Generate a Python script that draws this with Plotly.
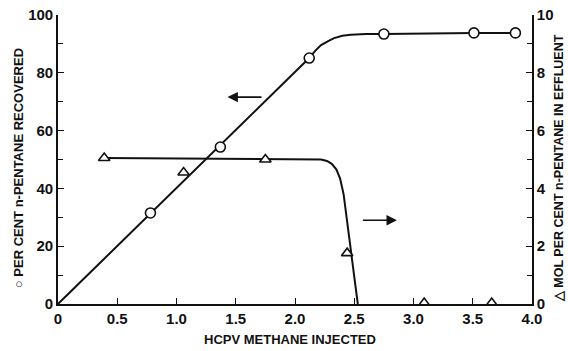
import plotly.graph_objects as go

# ---- data ----
# circles: per cent n-pentane recovered (left axis)
rec_x = [0.78, 1.37, 2.12, 2.75, 3.51, 3.86]
rec_y = [31.5, 54.3, 85.1, 93.4, 93.8, 93.8]
# smooth curve through the recovered points
rec_curve_x = [0.0, 2.12, 2.17, 2.22, 2.28, 2.33, 2.40, 2.47, 2.60, 2.75, 3.51, 3.90]
rec_curve_y = [0.0, 85.1, 87.6, 89.6, 91.0, 92.0, 92.8, 93.2, 93.4, 93.4, 93.8, 93.8]

# triangles: mol per cent n-pentane in effluent (right axis)
eff_x = [0.39, 1.06, 1.75, 2.44, 3.09, 3.66]
eff_y = [5.05, 4.55, 5.0, 1.76, 0.03, 0.03]
eff_curve_x = [0.39, 1.75, 2.22, 2.27, 2.31, 2.35, 2.38, 2.41, 2.44, 2.47, 2.50, 2.53]
eff_curve_y = [5.05, 5.02, 5.0, 4.95, 4.85, 4.65, 4.35, 3.8, 2.9, 1.9, 0.95, 0.0]

# arrows (tail -> head), in data units of the left axis
arrow_left = dict(tail=(1.73, 71.6), head=(1.43, 71.6))
arrow_right = dict(tail=(2.56, 29.0), head=(2.86, 29.0))

x_ticks = [0, 0.5, 1.0, 1.5, 2.0, 2.5, 3.0, 3.5, 4.0]
x_labels = ["0", "0.5", "1.0", "1.5", "2.0", "2.5", "3.0", "3.5", "4.0"]
y_ticks = [0, 20, 40, 60, 80, 100]
y_labels = ["0", "20", "40", "60", "80", "100"]
y2_ticks = [0, 2, 4, 6, 8, 10]
y2_labels = ["0", "2", "4", "6", "8", "10"]

x_title = "HCPV METHANE INJECTED"
y_title = "○ PER CENT n-PENTANE RECOVERED"
y2_title = "△ MOL PER CENT n-PENTANE IN EFFLUENT"

FONT = "Liberation Sans, Arial, sans-serif"
INK = "#111111"

fig = go.Figure()
fig.add_trace(go.Scatter(x=rec_curve_x, y=rec_curve_y, mode="lines",
                         line=dict(color=INK, width=2), hoverinfo="skip", showlegend=False))
fig.add_trace(go.Scatter(x=eff_curve_x, y=eff_curve_y, mode="lines", yaxis="y2",
                         line=dict(color=INK, width=2), hoverinfo="skip", showlegend=False))
fig.add_trace(go.Scatter(x=rec_x, y=rec_y, mode="markers",
                         marker=dict(symbol="circle", size=10, color="white",
                                     line=dict(color=INK, width=1.6)), showlegend=False))
fig.add_trace(go.Scatter(x=eff_x, y=eff_y, mode="markers", yaxis="y2",
                         marker=dict(symbol="triangle-up", size=10, color="white",
                                     line=dict(color=INK, width=1.6)), showlegend=False))

for a in (arrow_left, arrow_right):
    fig.add_annotation(x=a["head"][0], y=a["head"][1], ax=a["tail"][0], ay=a["tail"][1],
                       xref="x", yref="y", axref="x", ayref="y", text="",
                       showarrow=True, arrowhead=2, arrowsize=1.3, arrowwidth=1.6,
                       arrowcolor=INK)

tickfont = dict(family=FONT, size=15, color=INK, weight="bold")
titlefont = dict(family=FONT, size=13, color=INK, weight="bold")

fig.add_annotation(text=x_title, x=0.49, y=0, xref="paper", yref="paper",
                   xanchor="center", yanchor="middle",
                   yshift=-35, showarrow=False, font=titlefont)
fig.add_annotation(text=y_title, x=0, y=0.47, xref="paper", yref="paper",
                   xanchor="center", yanchor="middle",
                   xshift=-40, textangle=-90, showarrow=False, font=titlefont)
fig.add_annotation(text=y2_title, x=1, y=0.47, xref="paper", yref="paper",
                   xanchor="center", yanchor="middle",
                   xshift=27, textangle=-90, showarrow=False,
                   font=dict(family=FONT, size=12.5, color=INK, weight="bold"))

fig.update_layout(
    width=568, height=351,
    margin=dict(l=58, r=36, t=15, b=47, autoexpand=False),
    paper_bgcolor="white", plot_bgcolor="white",
    xaxis=dict(range=[0, 4], tickvals=x_ticks, ticktext=x_labels, automargin=False,
               showgrid=False, zeroline=False, showline=True, linecolor=INK, linewidth=1.6,
               ticks="inside", ticklen=6, tickwidth=1.4, tickcolor=INK,
               tickfont=tickfont, ticklabelstandoff=0),
    yaxis=dict(range=[0, 100], tickvals=y_ticks, ticktext=y_labels, automargin=False,
               showgrid=False, zeroline=False, showline=True, linecolor=INK, linewidth=1.6,
               ticks="inside", ticklen=6, tickwidth=1.4, tickcolor=INK,
               minor=dict(ticks="inside", dtick=10, ticklen=5, tickcolor=INK),
               tickfont=tickfont),
    yaxis2=dict(range=[0, 10], overlaying="y", side="right", tickvals=y2_ticks,
                ticktext=y2_labels, showgrid=False, zeroline=False, showline=True,
                automargin=False,
                linecolor=INK, linewidth=1.6, ticks="inside", ticklen=6, tickwidth=1.4,
                tickcolor=INK, minor=dict(ticks="inside", dtick=1, ticklen=5, tickcolor=INK),
                tickfont=tickfont),
)

fig.write_html("out.html", config={"displayModeBar": False},
               post_script="document.body.style.margin='0';")
